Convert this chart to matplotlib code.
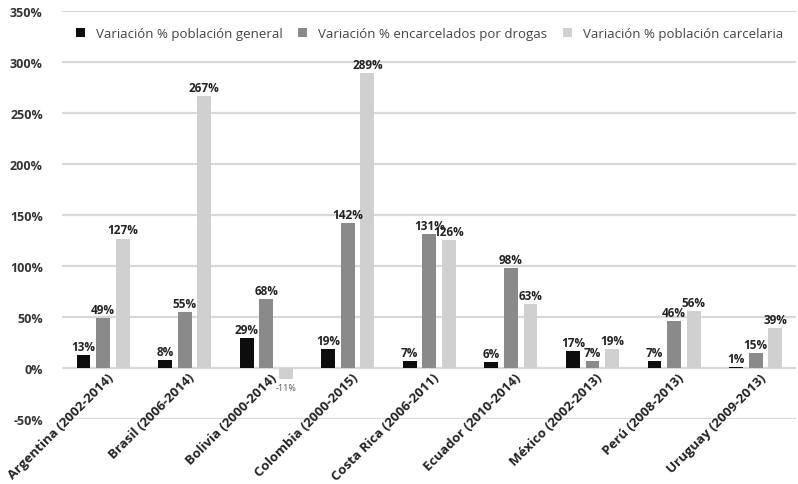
import numpy as np
import matplotlib.pyplot as plt
from matplotlib.ticker import MultipleLocator, FuncFormatter

plt.rcParams['font.family'] = ['Open Sans', 'DejaVu Sans']

# datos por país
paises = ['Argentina (2002-2014)', 'Brasil (2006-2014)', 'Bolivia (2000-2014)',
          'Colombia (2000-2015)', 'Costa Rica (2006-2011)', 'Ecuador (2010-2014)',
          'México (2002-2013)', 'Perú (2008-2013)', 'Uruguay (2009-2013)']
pob_general = [13, 8, 29, 19, 7, 6, 17, 7, 1]
encarcelados_drogas = [49, 55, 68, 142, 131, 98, 7, 46, 15]
pob_carcelaria = [127, 267, -11, 289, 126, 63, 19, 56, 39]

series = [
    ('Variación % población general', pob_general, '#0d0d0d'),
    ('Variación % encarcelados por drogas', encarcelados_drogas, '#8a8a8a'),
    ('Variación % población carcelaria', pob_carcelaria, '#d0d0d0'),
]

fig = plt.figure(figsize=(7.98, 4.85), dpi=100)
ax = fig.add_axes([0.078, 0.134, 0.92, 0.841])

x = np.arange(len(paises))
ancho = 0.17
desplaz = [-0.24, 0, 0.24]

for (nombre, valores, color), d in zip(series, desplaz):
    barras = ax.bar(x + d, valores, ancho, color=color, label=nombre, zorder=3)
    for b, v in zip(barras, valores):
        if v >= 0:
            ax.text(b.get_x() + b.get_width() / 2, v + 2, f'{v}%', ha='center', va='bottom',
                    fontsize=8.5, fontweight='bold', color='#222222', zorder=4)
        else:
            ax.text(b.get_x() + b.get_width() / 2, v - 4, f'{v}%', ha='center', va='top',
                    fontsize=6.5, color='#555555', zorder=4)

ax.set_ylim(-50, 350)
ax.set_xlim(-0.5, len(paises) - 0.5)
ax.yaxis.set_major_locator(MultipleLocator(50))
ax.yaxis.set_major_formatter(FuncFormatter(lambda v, p: f'{int(v)}%'))
ax.grid(axis='y', color='#d9d9d9', linewidth=1.6, zorder=0)
for s in ax.spines.values():
    s.set_visible(False)
ax.tick_params(length=0)
ax.tick_params(axis='y', labelsize=9, pad=14)
for t in ax.get_yticklabels():
    t.set_fontweight('bold')
    t.set_color('#333333')

# etiquetas de categoría colgando del eje en 0%
ax.set_xticks([])
for xi, nombre in zip(x, paises):
    ax.text(xi + 0.1, -7, nombre, rotation=45, ha='right', va='center',
            rotation_mode='anchor', fontsize=9.5, fontweight='bold', color='#222222',
            clip_on=False)

ax.legend(loc='upper center', bbox_to_anchor=(0.5, 0.99), ncol=3, frameon=False,
          fontsize=9.5, handlelength=0.7, handleheight=0.7, columnspacing=1.2,
          handletextpad=0.8, labelcolor='#444444')

fig.savefig('out.png', dpi=100)
